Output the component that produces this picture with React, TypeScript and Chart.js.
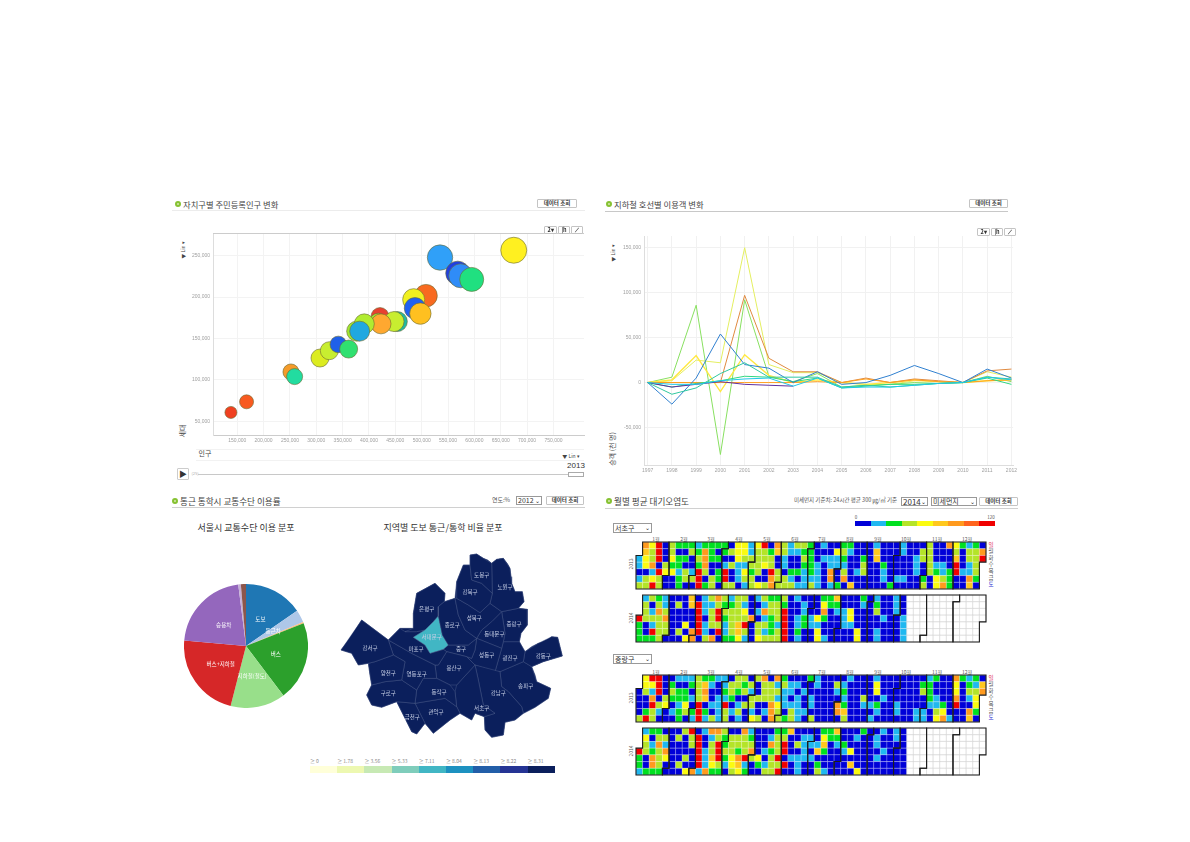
import React, { useEffect, useRef } from "react";
import { Chart, registerables } from "chart.js";

Chart.register(...registerables);

const KR = '"Noto Sans CJK KR","Noto Sans",sans-serif';

/* ---------- bubble chart: population / households by district ---------- */
const popValues = [138000, 167700, 251900, 258900, 307000, 324700, 341800, 361400, 420900, 417700, 453800, 447500, 422800, 376600, 391100, 382300, 508200, 484800, 487300, 497500, 534800, 568400, 574100, 594900, 674700];
const householdValues = [60800, 73600, 109600, 104000, 126400, 135200, 142800, 137200, 176400, 169600, 170400, 170400, 167600, 158800, 167600, 158800, 201600, 196800, 186400, 180000, 247600, 228800, 225600, 221200, 256400];
const bubbleSizes = [6, 7, 8, 8, 9, 9, 8.3, 9, 9, 9, 10, 10, 10, 10, 10, 10, 11.3, 11, 10.7, 10.7, 12.7, 12, 12, 12, 13];
const bubbleColors = ["#f04020", "#f85a20", "#f59b2a", "#22dca0", "#dcec20", "#c8ee30", "#2060e8", "#30e070", "#e84030", "#a0e830", "#20b8a0", "#c8ee30", "#ffa830", "#a0e830", "#b0ec30", "#20a8e0", "#f86a20", "#f0f020", "#2060f0", "#ffc020", "#30a0f8", "#2040e0", "#2f8cf8", "#20e080", "#fff020"];
const bubbleXTicks = [150000, 200000, 250000, 300000, 350000, 400000, 450000, 500000, 550000, 600000, 650000, 700000, 750000];
const bubbleYTicks = [50000, 100000, 150000, 200000, 250000];

/* ---------- line chart: subway ridership change ---------- */
const years = [1997, 1998, 1999, 2000, 2001, 2002, 2003, 2004, 2005, 2006, 2007, 2008, 2009, 2010, 2011, 2012];
const lineYTicks = [-50000, 0, 50000, 100000, 150000];
const lineYellow = [0, 2000, 25000, 22000, 150000, 20000, 11000, 11000, 0, -2000, -2000, 2000, 1000, 0, 12000, 6000];
const lineLime = [0, 6000, 86000, -80000, 92000, 7000, 1000, 10000, -5000, -3000, -2000, 0, -1000, 0, 7000, 1000];
const lineOrange = [0, 0, 0, 0, 97000, 27000, 12000, 12000, 0, 5000, 0, 4000, 2000, 0, 13000, 15000];
const lineBlue = [0, -24000, 5000, 54000, 20000, 16000, 0, 12000, -2000, 0, 8000, 19000, 10000, 0, 15000, 5000];
const lineGold = [0, 3000, 30000, -10000, 31000, 8000, 0, 3000, 0, -2000, 0, 3000, 1000, 0, 2000, 3000];
const lineTeal = [0, -13000, -6000, 10000, 22000, 6000, 6000, 6000, -5000, -3000, -5000, -3000, -1000, 0, 6000, 4000];
const lineGreen = [0, -5000, -1000, 2000, 7000, 6000, 1000, 5000, -6000, -4000, -2000, -2000, -1000, 0, 5000, -2000];
const linePurple = [0, -5000, -2000, 1000, -2000, -3000, -4000];
const lineCyan = [0, -2000, -2000, 2000, 4000, 5000, -4000, 5000, -6000, -5000, -5000, -3000, -1000, 0, 6000, 3000];
const lineAmber = [0, 0, 0, 0, 0, 0, 0, 1000, 0, 4000, 0, 3000, 1000, 0, 2000, 3000];
const lineSeries = [
  { values: lineCyan, color: "#20c8e8", width: 1 },
  { values: lineTeal, color: "#30c8a0", width: 1 },
  { values: linePurple, color: "#6030a0", width: 1 },
  { values: lineBlue, color: "#3080d0", width: 1 },
  { values: lineGreen, color: "#30d880", width: 1 },
  { values: lineAmber, color: "#ffa020", width: 1 },
  { values: lineOrange, color: "#e08a40", width: 1 },
  { values: lineGold, color: "#ffe840", width: 1.4 },
  { values: lineLime, color: "#88e060", width: 1 },
  { values: lineYellow, color: "#e4ef60", width: 1 },
];

/* ---------- pie ---------- */
const pieLabels = ["도보", "통근차", "", "버스", "지하철(철도)", "버스+지하철", "승용차", "", ""];
const pieValues = [15.4, 3.25, 0.35, 20.7, 14.3, 22.4, 21.6, 0.67, 1.33];
const pieColors = ["#1f77b4", "#aec7e8", "#ffbb78", "#2ca02c", "#98df8a", "#d62728", "#9467bd", "#c5b0d5", "#8c564b"];

/* ---------- map ---------- */
const seoulOutline: number[][] = [[405, 15], [425, 12], [445, 25], [458, 30], [470, 40], [485, 28], [505, 25], [518, 42], [525, 55], [528, 80], [530, 100], [540, 125], [562, 125], [567, 155], [550, 175], [577, 178], [577, 225], [558, 250], [553, 275], [570, 305], [590, 290], [610, 280], [630, 275], [650, 260], [668, 262], [675, 290], [682, 318], [625, 335], [590, 350], [600, 375], [605, 395], [647, 415], [640, 445], [600, 472], [565, 490], [540, 510], [510, 517], [505, 555], [470, 562], [450, 540], [448, 500], [420, 490], [410, 510], [375, 490], [345, 510], [295, 550], [270, 520], [245, 552], [230, 545], [205, 495], [185, 455], [140, 472], [110, 465], [95, 435], [110, 405], [105, 375], [100, 340], [70, 345], [50, 310], [18, 300], [45, 265], [80, 210], [120, 240], [160, 270], [195, 235], [235, 235], [235, 190], [245, 130], [300, 100], [330, 130], [328, 155], [360, 145], [365, 95], [385, 45], [405, 45]];
const districtNames = ["도봉구", "강북구", "노원구", "성북구", "종로구", "서대문구", "은평구", "마포구", "강서구", "양천구", "영등포구", "구로구", "동작구", "금천구", "관악구", "용산구", "중구", "서초구", "강남구", "성동구", "동대문구", "중랑구", "광진구", "강동구", "송파구"];
const districtRates = [8.4, 8.4, 8.4, 8.4, 8.4, 7.2, 8.4, 8.4, 8.4, 8.4, 8.4, 8.4, 8.4, 8.4, 8.4, 8.4, 8.4, 8.4, 8.4, 8.4, 8.4, 8.4, 8.4, 8.4, 8.4];
const districtOutlines: number[][][] = [
  [[405, 15], [425, 12], [445, 25], [470, 40], [472, 130], [440, 100], [410, 90], [405, 45]],
  [[385, 45], [405, 45], [410, 90], [440, 100], [472, 130], [465, 160], [435, 188], [400, 165], [365, 145], [365, 95]],
  [[470, 40], [485, 28], [505, 25], [525, 55], [530, 100], [540, 125], [562, 125], [567, 155], [550, 175], [500, 185], [465, 160], [472, 130]],
  [[365, 145], [400, 165], [435, 188], [465, 160], [500, 185], [470, 215], [440, 240], [425, 265], [390, 240], [370, 195], [360, 145]],
  [[360, 145], [328, 155], [310, 170], [310, 198], [322, 255], [340, 285], [400, 285], [425, 265], [390, 240], [370, 195]],
  [[310, 198], [322, 255], [340, 285], [325, 298], [285, 310], [270, 285], [235, 262], [270, 240], [295, 215]],
  [[245, 130], [300, 100], [330, 130], [328, 155], [310, 170], [310, 198], [295, 215], [270, 240], [245, 245], [210, 245], [235, 235], [235, 190]],
  [[160, 270], [195, 235], [210, 245], [245, 245], [270, 240], [235, 262], [270, 285], [285, 310], [325, 298], [335, 305], [310, 345], [300, 345], [230, 310]],
  [[80, 210], [160, 270], [175, 315], [120, 335], [100, 340], [70, 345], [50, 310], [18, 300]],
  [[120, 335], [175, 315], [210, 335], [200, 390], [150, 395], [110, 405], [105, 375], [100, 340]],
  [[175, 315], [160, 270], [230, 310], [300, 345], [305, 385], [265, 385], [245, 420], [200, 390], [210, 335]],
  [[110, 405], [150, 395], [200, 390], [245, 420], [240, 460], [185, 455], [140, 472], [110, 465], [95, 435]],
  [[245, 420], [265, 385], [305, 385], [345, 405], [360, 425], [365, 470], [330, 445], [270, 455], [240, 460]],
  [[185, 455], [240, 460], [270, 520], [245, 552], [230, 545], [205, 495]],
  [[240, 460], [270, 455], [330, 445], [365, 470], [375, 490], [345, 510], [295, 550], [270, 520]],
  [[335, 305], [395, 320], [420, 345], [365, 405], [345, 405], [305, 385], [300, 345], [310, 345]],
  [[340, 285], [400, 285], [425, 265], [420, 300], [410, 325], [395, 320], [335, 305], [325, 298]],
  [[365, 405], [420, 345], [430, 390], [445, 465], [480, 490], [448, 500], [420, 490], [410, 510], [375, 490], [365, 470], [360, 425]],
  [[420, 345], [495, 365], [500, 410], [520, 425], [560, 470], [565, 490], [540, 510], [510, 517], [505, 555], [470, 562], [450, 540], [448, 500], [480, 490], [445, 465], [430, 390]],
  [[410, 325], [420, 300], [425, 265], [500, 295], [480, 365], [420, 345], [395, 320]],
  [[425, 265], [440, 240], [470, 215], [500, 185], [510, 250], [505, 275], [500, 295]],
  [[500, 185], [550, 175], [577, 178], [577, 225], [558, 250], [553, 275], [505, 275], [510, 250]],
  [[500, 295], [505, 275], [553, 275], [570, 305], [565, 335], [495, 365], [480, 365]],
  [[570, 305], [610, 280], [650, 260], [668, 262], [682, 318], [625, 335], [590, 350], [565, 335]],
  [[495, 365], [565, 335], [590, 350], [605, 395], [647, 415], [640, 445], [600, 472], [565, 490], [560, 470], [520, 425], [500, 410]],
];
const districtLabelAnchors = [[440, 75], [405, 125], [510, 112], [418, 205], [352, 225], [290, 262], [275, 178], [243, 297], [105, 295], [160, 368], [245, 373], [160, 430], [312, 425], [232, 502], [303, 487], [357, 355], [378, 296], [440, 475], [490, 428], [455, 315], [478, 252], [537, 222], [525, 325], [625, 317], [572, 408]];
const mapLegendThresholds = [0, 1.78, 3.56, 5.33, 7.11, 8.04, 8.13, 8.22, 8.31];
const mapLegendColors = ["#ffffd9", "#edf8b1", "#c7e9b4", "#7fcdbb", "#41b6c4", "#1d91c0", "#225ea8", "#253494", "#0b1f5c"];

/* ---------- calendar heatmaps: one string per weekday, one character per week ---------- */
const heatPalette = ["#0000d8", "#20b8f0", "#00e020", "#b4e428", "#fbfb10", "#ffc81e", "#ff9a1e", "#ff641e", "#f00000"];
const heatLegendMin = "0";
const heatLegendMax = "120";
const siteNorth2013 = [
  ".6480322212222044148063133" + "201002200010001000300642120",
  ".5380300326202344133253112" + "200043100050001003300030336",
  "14380422036220043333301003" + "201112002050000013300050338",
  "14603220026001311334301002" + "21011100300200001031108013.",
  "00184413183028014230830221" + "21060301300100001032128113.",
  "13430023380328013300633101" + "11060600000101100204320062.",
  "33830020082303301343633311" + "31012050000020000304620050.",
];
const siteNorth2014 = [
  ".1321000501363133013223010" + "002250002010010____________",
  ".3031030581132231001332001" + "004220001020010____________",
  ".3163000081383334016338001" + "006011400030010____________",
  "83336000080382333601238012" + "142001400001001____________",
  "20133004081331358033218012" + "110001100000001___________.",
  "20833030681081353031238020" + "040000040010001___________.",
  "22230004603602241043338010" + "041000040010001___________.",
];
const siteSouth2013 = [
  ".4880011132211033036062000" + "210000100010000000120062120",
  ".4480200235101332303313110" + "010031000040000002200040215",
  "03180322036002323103331101" + "000012000040000003200040336",
  "00603222135011200333311010" + "10000100300100000021006014.",
  "00834014080118013300641110" + "10006200112001000011208004.",
  "02310123282013130101630311" + "00006500001001001103400062.",
  "38300020181313010430632310" + "30000300010000001104610050.",
];
const siteSouth2014 = [
  ".1220003801663006100022500" + "002250002001010____________",
  ".4033030380132333200133001" + "104220010010010____________",
  ".3161000380382333300638031" + "115012000010000____________",
  "83236000081383323601238001" + "052001400001000____________",
  "20634003081582468340380111" + "100000000010000___________.",
  "20630030081431451021338010" + "020000500000000___________.",
  "12220004616220342003380010" + "031000040000000___________.",
];
const monthLabels = ["1월", "2월", "3월", "4월", "5월", "6월", "7월", "8월", "9월", "10월", "11월", "12월"];
const weekdayLabels = ["일", "월", "화", "수", "목", "금", "토"];

/* ---------- plugins ---------- */
const arcLabels = {
  id: "arcLabels",
  afterDatasetsDraw(chart: any) {
    const ctx = chart.ctx;
    ctx.save();
    ctx.fillStyle = "#ffffff";
    ctx.font = `5.5px ${KR}`;
    ctx.textAlign = "center";
    ctx.textBaseline = "middle";
    chart.getDatasetMeta(0).data.forEach((arc: any, i: number) => {
      if (!pieLabels[i]) return;
      const p = arc.tooltipPosition();
      ctx.fillText(pieLabels[i], p.x, p.y);
    });
    ctx.restore();
  },
};

const mapLabels = {
  id: "mapLabels",
  afterDatasetsDraw(chart: any) {
    const ctx = chart.ctx;
    ctx.save();
    ctx.fillStyle = "#c8d0e6";
    ctx.font = `5.5px ${KR}`;
    ctx.textAlign = "center";
    ctx.textBaseline = "middle";
    districtNames.forEach((n, i) => {
      const [x, y] = districtLabelAnchors[i];
      ctx.fillText(n, chart.scales.x.getPixelForValue(x), chart.scales.y.getPixelForValue(y));
    });
    ctx.restore();
  },
};

function cellOf(d: Date) {
  const jan1 = new Date(d.getFullYear(), 0, 1);
  const doy = Math.round((d.getTime() - jan1.getTime()) / 86400000);
  return { col: Math.floor((doy + jan1.getDay()) / 7), row: d.getDay() };
}

const monthOutlines = (year: number) => ({
  id: "monthOutlines",
  afterDatasetsDraw(chart: any) {
    const { ctx, scales } = chart;
    const X = (v: number) => scales.x.getPixelForValue(v - 0.5);
    const Y = (v: number) => scales.y.getPixelForValue(v - 0.5);
    ctx.save();
    ctx.strokeStyle = "#1c1c1c";
    ctx.lineWidth = 1.1;
    for (let m = 0; m < 12; m++) {
      const a = cellOf(new Date(year, m, 1));
      const b = cellOf(new Date(year, m + 1, 0));
      ctx.beginPath();
      ctx.moveTo(X(a.col + 1), Y(a.row));
      ctx.lineTo(X(a.col), Y(a.row));
      ctx.lineTo(X(a.col), Y(7));
      ctx.lineTo(X(b.col), Y(7));
      ctx.lineTo(X(b.col), Y(b.row + 1));
      ctx.lineTo(X(b.col + 1), Y(b.row + 1));
      ctx.lineTo(X(b.col + 1), Y(0));
      ctx.lineTo(X(a.col + 1), Y(0));
      ctx.closePath();
      ctx.stroke();
    }
    ctx.restore();
  },
});

/* ---------- configs ---------- */
const tickFont = { size: 5, family: '"Liberation Sans",sans-serif' };
const fixW = (w: number) => (s: any) => { s.width = w; };
const fixH = (h: number) => (s: any) => { s.height = h; };
const useTicks = (vals: number[]) => (s: any) => { s.ticks = vals.map((value) => ({ value })); };
const commas = (v: any) => Number(v).toLocaleString("en-US");
const quiet = { legend: { display: false }, tooltip: { enabled: false } };

const bubbleConfig: any = {
  type: "bubble",
  data: {
    datasets: [{
      data: popValues.map((x, i) => ({ x, y: householdValues[i], r: bubbleSizes[i] })),
      backgroundColor: bubbleColors,
      borderColor: "#6a6a30",
      borderWidth: 0.6,
    }],
  },
  options: {
    animation: false, responsive: false,
    layout: { autoPadding: false, padding: { top: 5, right: 6, left: 0, bottom: 0 } },
    plugins: quiet,
    scales: {
      x: {
        type: "linear", min: 104000, max: 808000,
        afterFit: fixH(10), afterBuildTicks: useTicks(bubbleXTicks),
        border: { color: "#cccccc" }, grid: { color: "#f3f3f3", drawTicks: false },
        ticks: { autoSkip: false, maxRotation: 0, font: tickFont, color: "#a0a0a0", padding: 3, callback: commas },
      },
      y: {
        type: "linear", min: 33560, max: 276000,
        afterFit: fixW(25), afterBuildTicks: useTicks(bubbleYTicks),
        border: { color: "#dddddd" }, grid: { color: "#f3f3f3", drawTicks: false },
        ticks: { font: tickFont, color: "#a0a0a0", padding: 3, callback: commas },
      },
    },
  },
};

const lineConfig: any = {
  type: "line",
  data: {
    datasets: lineSeries.map((s) => ({
      data: s.values.map((y, i) => ({ x: years[i], y })),
      borderColor: s.color, borderWidth: s.width, pointRadius: 0, tension: 0, fill: false,
    })),
  },
  options: {
    animation: false, responsive: false,
    layout: { autoPadding: false, padding: { top: 5, right: 4, left: 0, bottom: 0 } },
    plugins: quiet,
    scales: {
      x: {
        type: "linear", min: 1996.85, max: 2012.07,
        afterFit: fixH(10), afterBuildTicks: useTicks(years),
        border: { color: "#dddddd" }, grid: { color: "#f1f1f1", drawTicks: false },
        ticks: { autoSkip: false, maxRotation: 0, font: tickFont, color: "#a0a0a0", padding: 3, callback: (v: any) => String(v) },
      },
      y: {
        type: "linear", min: -91700, max: 163000,
        afterFit: fixW(24), afterBuildTicks: useTicks(lineYTicks),
        border: { color: "#dddddd" }, grid: { color: "#f1f1f1", drawTicks: false },
        ticks: { font: tickFont, color: "#a0a0a0", padding: 3, callback: commas },
      },
    },
  },
};

const pieConfig: any = {
  type: "pie",
  data: { labels: pieLabels, datasets: [{ data: pieValues, backgroundColor: pieColors, borderWidth: 0 }] },
  options: { animation: false, responsive: false, plugins: quiet, layout: { padding: 0 } },
  plugins: [arcLabels],
};

function rateColor(v: number) {
  let c = mapLegendColors[0];
  mapLegendThresholds.forEach((t, i) => { if (v >= t) c = mapLegendColors[i]; });
  return c;
}

const toPts = (poly: number[][]) => [...poly, poly[0]].map(([x, y]) => ({ x, y }));
const mapConfig: any = {
  type: "scatter",
  data: {
    datasets: [
      ...districtOutlines.map((poly, i) => ({
        data: toPts(poly),
        showLine: true, tension: 0, pointRadius: 0,
        fill: "shape",
        backgroundColor: rateColor(districtRates[i]),
        borderColor: "#55648f", borderWidth: 0.4,
      })),
      {
        data: toPts(seoulOutline),
        showLine: true, tension: 0, pointRadius: 0,
        fill: "shape",
        backgroundColor: mapLegendColors[8],
        borderColor: mapLegendColors[8], borderWidth: 0.5,
      },
    ],
  },
  options: {
    animation: false, responsive: false,
    layout: { autoPadding: false, padding: 0 },
    plugins: quiet,
    scales: {
      x: { type: "linear", display: false, min: 0, max: 705 },
      y: { type: "linear", display: false, min: 0, max: 600, reverse: true },
    },
  },
  plugins: [mapLabels],
};

function heatConfig(rows: string[], year: number): any {
  const pts: any[] = [];
  const bg: string[] = [];
  const bd: string[] = [];
  rows.forEach((r, row) => {
    for (let col = 0; col < 53; col++) {
      const ch = r[col];
      if (ch === undefined || ch === ".") continue;
      pts.push({ x: col, y: row });
      if (ch === "_") { bg.push("#ffffff"); bd.push("#c4c4c4"); }
      else { bg.push(heatPalette[Number(ch)]); bd.push("rgba(255,255,255,0.55)"); }
    }
  });
  return {
    type: "scatter",
    data: {
      datasets: [{
        data: pts, pointStyle: "rect", pointRadius: 4.67,
        pointBackgroundColor: bg, pointBorderColor: bd, pointBorderWidth: 0.4, clip: false,
      }],
    },
    options: {
      animation: false, responsive: false,
      layout: { autoPadding: false, padding: 1 },
      plugins: quiet,
      scales: {
        x: { type: "linear", display: false, min: -0.5, max: 52.5 },
        y: { type: "linear", display: false, min: -0.5, max: 6.5, reverse: true },
      },
    },
    plugins: [monthOutlines(year)],
  };
}

/* ---------- small components ---------- */
function ChartCanvas({ left, top, width, height, config }: any) {
  const ref = useRef<HTMLCanvasElement>(null);
  useEffect(() => {
    const c = new Chart(ref.current as HTMLCanvasElement, config);
    return () => c.destroy();
  }, [config]);
  return <canvas ref={ref} width={width} height={height} style={{ position: "absolute", left, top, width, height }} />;
}

function T({ x, y, text, size = 6, color = "#555", anchor = "c", rotate = 0, weight = 400, font = KR }: any) {
  const tx = anchor === "c" ? "-50%" : anchor === "r" ? "-100%" : "0";
  return (
    <span style={{ position: "absolute", left: x, top: y, fontFamily: font, fontSize: size, color, fontWeight: weight, lineHeight: 1, whiteSpace: "nowrap", transform: `translate(${tx},-50%) rotate(${rotate}deg)` }}>
      {text}
    </span>
  );
}

function Box({ x, y, w, h, text }: any) {
  return (
    <div style={{ position: "absolute", left: x, top: y, width: w, height: h, boxSizing: "border-box", border: "1px solid #c4c4c4", borderRadius: 1, background: "#fff", color: "#333", fontFamily: KR, fontSize: 5.5, fontWeight: 700, lineHeight: `${h - 2}px`, textAlign: "center", whiteSpace: "nowrap" }}>
      {text}
    </div>
  );
}

function Sel({ x, y, w, h, text, size = 7 }: any) {
  return (
    <div style={{ position: "absolute", left: x, top: y, width: w, height: h, boxSizing: "border-box", border: "1px solid #999", background: "#fff", color: "#333", fontFamily: KR, fontSize: size, lineHeight: `${h - 2}px`, paddingLeft: 1, whiteSpace: "nowrap", overflow: "hidden" }}>
      {text}
      <span style={{ position: "absolute", right: 1, top: 0, fontSize: 6, color: "#222" }}>⌄</span>
    </div>
  );
}

function Head({ x, y, text, lineX, lineW, lineY, lineColor, size = 8.3 }: any) {
  return (
    <>
      <div style={{ position: "absolute", left: x, top: y - 3, width: 6, height: 6, boxSizing: "border-box", borderRadius: "50%", border: "2px solid #86c232", background: "#d6e8b0" }} />
      <T x={x + 8} y={y} text={text} size={size} color="#444" anchor="l" />
      <div style={{ position: "absolute", left: lineX, top: lineY, width: lineW, height: 1, background: lineColor }} />
    </>
  );
}

function ToolIcons({ x, y }: any) {
  return (
    <>
      <Box x={x} y={y} w={13} h={8} text="2▾" />
      <Box x={x + 14} y={y} w={12} h={8} text="|h" />
      <Box x={x + 27} y={y} w={12} h={8} text="⟋" />
    </>
  );
}

const heatA = heatConfig(siteNorth2013, 2013);
const heatB = heatConfig(siteNorth2014, 2014);
const heatC = heatConfig(siteSouth2013, 2013);
const heatD = heatConfig(siteSouth2014, 2014);
const monthX = [656, 684, 711, 739, 767, 795, 822, 850, 878, 906, 937, 967];

export default function App() {
  return (
    <div style={{ position: "absolute", left: 0, top: 0, width: 1190, height: 842, background: "#fff", overflow: "hidden" }}>
      {/* top-left: bubble */}
      <Head x={175} y={204} text="자치구별 주민등록인구 변화" lineX={172} lineW={413} lineY={210} lineColor="#ececec" />
      <Box x={537} y={199} w={40} h={9} text="데이터 조회" />
      <ChartCanvas left={188} top={228} width={402} height={217} config={bubbleConfig} />
      <div style={{ position: "absolute", left: 213, top: 233, width: 371, height: 1, background: "#cccccc" }} />
      <ToolIcons x={544} y={226} />
      <T x={182} y={250} text="▼   Lin ▾" size={5} rotate={-90} color="#444" />
      <T x={182} y={431} text="세대" size={7} rotate={-90} color="#444" />
      <T x={205} y={453} text="인구" size={7} color="#444" />
      <T x={571} y={455} text="▼   Lin ▾" size={5} color="#444" />
      <div style={{ position: "absolute", left: 196, top: 449, width: 388, height: 1, background: "#f2f2f2" }} />
      <div style={{ position: "absolute", left: 196, top: 460, width: 388, height: 1, background: "#f2f2f2" }} />
      <div style={{ position: "absolute", left: 177, top: 468, width: 12, height: 12, boxSizing: "border-box", border: "1px solid #ccc", borderRadius: 1 }} />
      <T x={183} y={474} text="▶" size={8} color="#333" />
      <T x={195} y={473} text="(25)" size={4} color="#aaa" />
      <div style={{ position: "absolute", left: 198, top: 474, width: 370, height: 1, background: "#c8c8c8" }} />
      <div style={{ position: "absolute", left: 568, top: 472, width: 16, height: 5, boxSizing: "border-box", border: "1px solid #aaa", background: "#fff" }} />
      <T x={576} y={466} text="2013" size={8} color="#333" font='"Liberation Sans",sans-serif' />

      {/* top-right: lines */}
      <Head x={606} y={204} text="지하철 호선별 이용객 변화" lineX={605} lineW={403} lineY={211} lineColor="#c8c8c8" />
      <Box x={969} y={199} w={39} h={9} text="데이터 조회" />
      <ChartCanvas left={620} top={230} width={400} height={245} config={lineConfig} />
      <ToolIcons x={977} y={228} />
      <T x={612} y={253} text="▼   Lin ▾" size={5} rotate={-90} color="#444" />
      <T x={612} y={449} text="승객 (천 명)" size={7} rotate={-90} color="#444" />

      {/* bottom-left: pie + map */}
      <Head x={172} y={501} text="통근 통학시 교통수단 이용률" lineX={172} lineW={413} lineY={507} lineColor="#d0d0d0" size={8.6} />
      <T x={501} y={500} text="연도:%" size={6} />
      <Sel x={516} y={496} w={26} h={9} text="2012" />
      <Box x={546} y={496} w={38} h={9} text="데이터 조회" />
      <T x={246} y={527} text="서울시 교통수단 이용 분포" size={9} color="#333" />
      <T x={443} y={527} text="지역별 도보 통근/통학 비율 분포" size={9} color="#333" />
      <ChartCanvas left={184} top={584} width={124} height={124} config={pieConfig} />
      <ChartCanvas left={335} top={550} width={235} height={200} config={mapConfig} />
      {mapLegendColors.map((c, i) => (
        <React.Fragment key={i}>
          <div style={{ position: "absolute", left: 310 + i * 27.2, top: 766, width: 27.2, height: 7, background: c }} />
          <T x={310 + i * 27.2} y={760} text={`≥ ${mapLegendThresholds[i]}`} size={5} anchor="l" color="#888" />
        </React.Fragment>
      ))}

      {/* bottom-right: calendars */}
      <Head x={606} y={501} text="월별 평균 대기오염도" lineX={605} lineW={413} lineY={508} lineColor="#d0d0d0" size={8.6} />
      <T x={897} y={501} text="미세먼지 기준치: 24시간 평균 300 ㎍/㎥ 기준" size={5.5} anchor="r" />
      <Sel x={901} y={497} w={27} h={9} text="2014" size={8} />
      <Sel x={931} y={497} w={46} h={9} text="미세먼지" />
      <Box x={979} y={497} w={39} h={9} text="데이터 조회" />
      {heatPalette.map((c, i) => (
        <div key={i} style={{ position: "absolute", left: 855 + i * 15.55, top: 521, width: 15.55, height: 5, background: c }} />
      ))}
      <T x={856} y={517} text={heatLegendMin} size={4.5} />
      <T x={991} y={517} text={heatLegendMax} size={4.5} />
      <Sel x={613} y={523} w={39} h={10} text="서초구" />
      <Sel x={613} y={654} w={39} h={10} text="중랑구" />
      {monthLabels.map((m, i) => (
        <React.Fragment key={m}>
          <T x={monthX[i]} y={538} text={m} size={5} />
          <T x={monthX[i]} y={671} text={m} size={5} />
        </React.Fragment>
      ))}
      {[545.5, 678.5].map((top) =>
        weekdayLabels.map((d, i) => (
          <T key={`${top}${d}`} x={991} y={top + i * 6.65} text={d} size={5.5} color={i === 0 ? "#e03060" : i === 6 ? "#3030d0" : "#555"} />
        ))
      )}
      <T x={630} y={564} text="2013" size={5} rotate={-90} />
      <T x={630} y={618} text="2014" size={5} rotate={-90} />
      <T x={630} y={698} text="2013" size={5} rotate={-90} />
      <T x={630} y={751} text="2014" size={5} rotate={-90} />
      <ChartCanvas left={635} top={541} width={352} height={49} config={heatA} />
      <ChartCanvas left={635} top={594} width={352} height={49} config={heatB} />
      <ChartCanvas left={635} top={674} width={352} height={49} config={heatC} />
      <ChartCanvas left={635} top={727} width={352} height={49} config={heatD} />
    </div>
  );
}
